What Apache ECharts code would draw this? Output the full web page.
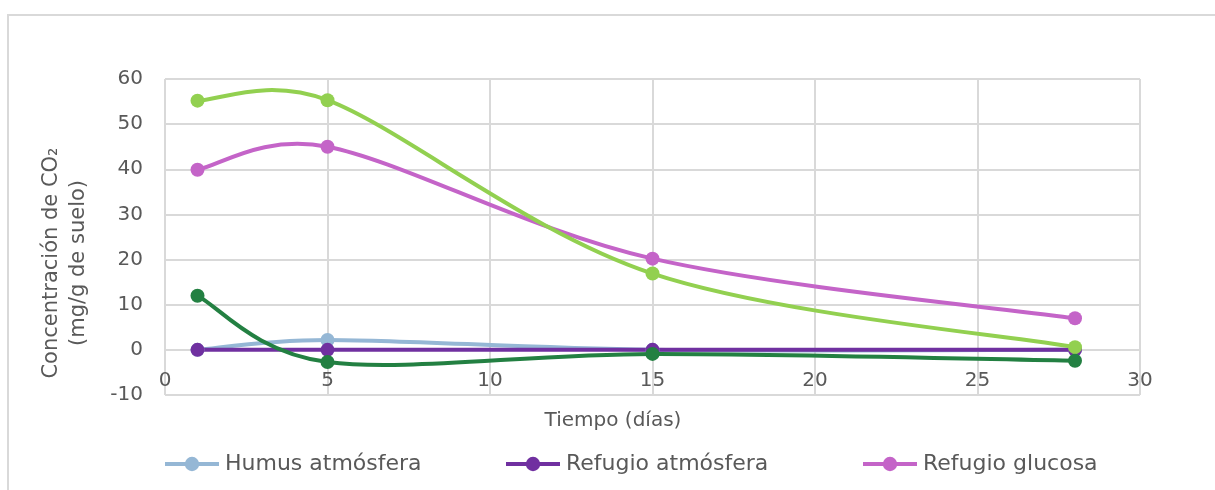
<!DOCTYPE html>
<html>
<head>
<meta charset="utf-8">
<script src="https://cdn.jsdelivr.net/npm/echarts@6/dist/echarts.min.js"></script>
<style>
  html, body { margin: 0; padding: 0; background: #ffffff; }
  #chart { width: 1215px; height: 490px; }
</style>
</head>
<body>
<div id="chart"></div>
<script>
// Sampling days
const dias = [1, 5, 15, 28];

// CO2 concentration (mg/g de suelo) per treatment
const humusAtmosfera   = [0, 2.2, 0, 0];
const refugioAtmosfera = [0, 0, 0, 0];
const refugioGlucosa   = [39.9, 45.0, 20.2, 7.0];
const humusGlucosa     = [55.2, 55.3, 16.9, 0.6];
const humusSuelo       = [12.0, -2.7, -0.9, -2.4];

// Axis ranges
const xTicks = { min: 0, max: 30, interval: 5 };
const yTicks = { min: -10, max: 60, interval: 10 };

const FONT = 'DejaVu Sans';
const TEXT = '#595959';
const GRID = '#d9d9d9';
const LINE_W = 4;

const treatments = [
  { name: 'Humus atmósfera',   values: humusAtmosfera,   color: '#95b7d5' },
  { name: 'Refugio atmósfera', values: refugioAtmosfera, color: '#7030a0' },
  { name: 'Refugio glucosa',   values: refugioGlucosa,   color: '#c464c8' },
  { name: 'Humus glucosa',     values: humusGlucosa,     color: '#92d050' },
  { name: 'Humus suelo',       values: humusSuelo,       color: '#238042' }
];

function pairs(values) {
  return dias.map((d, i) => [d, values[i]]);
}

// Spreadsheet-style smoothed segment: cubic Bezier whose handles follow the
// neighbouring points (1/6 of the chord), capped at half the segment length.
function handle(prev, next, segLen) {
  const dx = next[0] - prev[0], dy = next[1] - prev[1];
  const d = Math.hypot(dx, dy);
  if (d === 0) return [0, 0];
  let f = 1 / 6;
  if (d * f > segLen / 2) f = (segLen / 2) / d;
  return [dx * f, dy * f];
}

// Smoothed connecting curve of one treatment, drawn under its markers
function curveSeries(t) {
  return {
    name: t.name + ' (curva)',
    type: 'custom',
    data: pairs(t.values),
    encode: { x: 0, y: 1 },
    z: 2,
    silent: true,
    renderItem: function (params, api) {
      const i = params.dataIndex;
      const n = dias.length;
      if (i >= n - 1) return null;
      const clampIdx = (k) => Math.max(0, Math.min(n - 1, k));
      const P = (k) => api.coord([dias[clampIdx(k)], t.values[clampIdx(k)]]);
      const p0 = P(i - 1), p1 = P(i), p2 = P(i + 1), p3 = P(i + 2);
      const seg = Math.hypot(p2[0] - p1[0], p2[1] - p1[1]);
      const h1 = handle(p0, p2, seg);
      const h2 = handle(p1, p3, seg);
      return {
        type: 'bezierCurve',
        shape: {
          x1: p1[0], y1: p1[1],
          cpx1: p1[0] + h1[0], cpy1: p1[1] + h1[1],
          cpx2: p2[0] - h2[0], cpy2: p2[1] - h2[1],
          x2: p2[0], y2: p2[1]
        },
        style: { fill: null, stroke: t.color, lineWidth: LINE_W, lineCap: 'round' }
      };
    }
  };
}

// Data markers of one treatment (also feeds the legend entry)
function markerSeries(t) {
  return {
    name: t.name,
    type: 'line',
    data: pairs(t.values),
    z: 3,
    symbol: 'circle',
    symbolSize: 14,
    lineStyle: { color: t.color, width: LINE_W, opacity: 0 },
    itemStyle: { color: t.color },
    emphasis: { disabled: true }
  };
}

function legendAt(t, left) {
  return {
    data: [t.name],
    left: left,
    top: 448,
    itemWidth: 54,
    itemHeight: 18,
    itemGap: 7,
    lineStyle: { color: t.color, width: LINE_W, opacity: 1 },
    itemStyle: { color: t.color, opacity: 1 },
    textStyle: { fontFamily: FONT, fontSize: 22, color: TEXT, padding: [0, 0, 0, 1] }
  };
}

const chart = echarts.init(document.getElementById('chart'), null, { renderer: 'canvas' });

chart.setOption({
  animation: false,
  backgroundColor: '#ffffff',
  grid: { left: 165, right: 75, top: 79, bottom: 95, containLabel: false },
  xAxis: {
    type: 'value',
    min: xTicks.min, max: xTicks.max, interval: xTicks.interval,
    axisLine: { show: false, onZero: false },
    axisTick: { show: false },
    axisLabel: { margin: -24, fontFamily: FONT, fontSize: 20, color: TEXT },
    splitLine: { show: true, lineStyle: { color: GRID, width: 2 } }
  },
  yAxis: {
    type: 'value',
    min: yTicks.min, max: yTicks.max, interval: yTicks.interval,
    axisLine: { show: false },
    axisTick: { show: false },
    axisLabel: { margin: 22, fontFamily: FONT, fontSize: 20, color: TEXT },
    splitLine: { show: true, lineStyle: { color: GRID, width: 2 } }
  },
  legend: [
    legendAt(treatments[0], 158),
    legendAt(treatments[1], 499),
    legendAt(treatments[2], 856)
  ],
  graphic: [
    {
      type: 'rect',
      silent: true,
      shape: { x: 8, y: 15, width: 1400, height: 700 },
      style: { fill: 'none', stroke: GRID, lineWidth: 2 },
      z: -10
    },
    {
      type: 'text',
      silent: true,
      x: 65, y: 263,
      rotation: Math.PI / 2,
      style: {
        text: 'Concentración de CO₂\n(mg/g de suelo)',
        font: '21px "' + FONT + '"',
        fill: TEXT,
        align: 'center',
        verticalAlign: 'middle',
        lineHeight: 27
      }
    },
    {
      type: 'text',
      silent: true,
      x: 613, y: 421,
      style: {
        text: 'Tiempo (días)',
        font: '20px "' + FONT + '"',
        fill: TEXT,
        align: 'center',
        verticalAlign: 'middle'
      }
    }
  ],
  series: treatments.map(markerSeries).concat(treatments.map(curveSeries))
});
</script>
</body>
</html>
